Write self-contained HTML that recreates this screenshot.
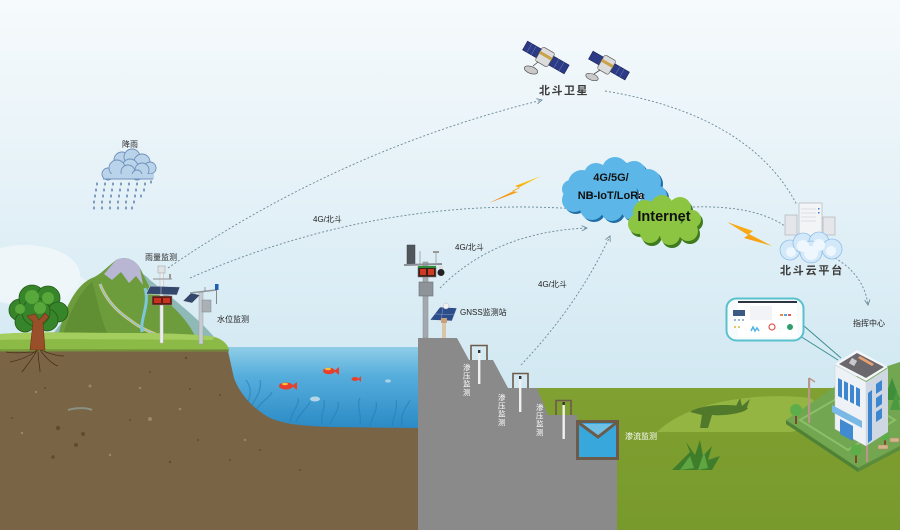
<!DOCTYPE html>
<html><head><meta charset="utf-8">
<style>
html,body{margin:0;padding:0;width:900px;height:530px;overflow:hidden;background:#e9f4f9}
svg{display:block}
text{font-family:"Liberation Sans","Noto Sans CJK SC",sans-serif}
</style></head><body>
<svg width="900" height="530" viewBox="0 0 900 530" xmlns="http://www.w3.org/2000/svg">
<defs>
<linearGradient id="sky" gradientUnits="userSpaceOnUse" x1="0" y1="0" x2="0" y2="390">
 <stop offset="0" stop-color="#f6fafc"/>
 <stop offset="0.45" stop-color="#e6f2f8"/>
 <stop offset="1" stop-color="#d1e8f2"/>
</linearGradient>
<linearGradient id="water" gradientUnits="userSpaceOnUse" x1="0" y1="347" x2="0" y2="428">
 <stop offset="0" stop-color="#8fcde7"/>
 <stop offset="0.35" stop-color="#56aedc"/>
 <stop offset="1" stop-color="#2b8bc6"/>
</linearGradient>
<linearGradient id="gr" gradientUnits="userSpaceOnUse" x1="0" y1="388" x2="0" y2="530">
 <stop offset="0" stop-color="#80a131"/>
 <stop offset="1" stop-color="#78992c"/>
</linearGradient>
<linearGradient id="bolt" x1="0" y1="1" x2="1" y2="0">
 <stop offset="0" stop-color="#f07a12"/>
 <stop offset="1" stop-color="#ffd51c"/>
</linearGradient>
<marker id="ar" viewBox="0 0 8 8" refX="7" refY="4" markerWidth="7" markerHeight="7" orient="auto" markerUnits="userSpaceOnUse">
 <path d="M1,1 L7,4 L1,7" fill="none" stroke="#6a8898" stroke-width="1"/>
</marker>
</defs>

<!-- sky -->
<rect x="0" y="0" width="900" height="530" fill="url(#sky)"/>
<ellipse cx="25" cy="275" rx="55" ry="30" fill="#f2f8fb" opacity="0.8"/>
<ellipse cx="60" cy="290" rx="30" ry="18" fill="#eef6fa" opacity="0.8"/>

<!-- right green ground -->
<rect x="500" y="388" width="400" height="142" fill="url(#gr)"/>
<path d="M657,432 C690,400 760,392 810,398 C830,410 820,428 790,432 Z" fill="#98b945" opacity="0.85"/>
<path d="M690,412 C700,404 735,403 748,408 C745,414 720,416 712,415 L708,428 L700,428 L702,415 Z" fill="#51792b"/>
<path d="M735,408 L740,398 L742,406 L750,399 L746,410 Z" fill="#51792b"/>
<!-- grass tuft -->
<g fill="#3f7d2a">
 <path d="M672,470 L690,452 L686,442 L695,455 L700,440 L703,456 L712,446 L708,460 L720,456 L712,470 Z"/>
</g>
<g fill="#5fa542">
 <path d="M680,470 L690,456 L694,468 Z"/>
 <path d="M698,470 L704,452 L708,468 Z"/>
</g>

<!-- mountains -->
<path d="M50,338 C70,310 90,292 110,280 C125,270 140,268 150,280 C175,300 200,320 215,338 Z" fill="#8fb9b6"/>
<path d="M58,338 C64,305 78,284 92,278 C100,275 106,268 116,260 C124,256 134,258 140,268 L150,288 C166,300 186,316 196,338 Z" fill="#6c9c3b"/>
<path d="M62,338 C70,310 80,292 92,282 C98,300 100,320 110,338 Z" fill="#5f8e33"/>
<path d="M104,274 L116,260 C124,256 134,258 140,268 L143,285 L136,276 L129,283 L121,272 L112,280 Z" fill="#b8b6d2"/>
<path d="M100,284 C106,300 118,312 130,320 C140,328 150,332 160,336" fill="none" stroke="#e7c77a" stroke-width="3"/>
<path d="M100,284 C106,300 118,312 130,320 C140,328 150,332 160,336" fill="none" stroke="#7cc7dc" stroke-width="1.2"/>
<path d="M145,288 C150,305 140,318 142,332" fill="none" stroke="#7cc7dc" stroke-width="3"/>

<!-- left soil -->
<rect x="0" y="347" width="420" height="183" fill="#7a6446"/>
<g fill="#5f4b33">
 <circle cx="58" cy="428" r="2.2"/><circle cx="83" cy="434" r="2"/><circle cx="76" cy="445" r="2"/><circle cx="53" cy="457" r="1.8"/>
 <circle cx="186" cy="358" r="1.2"/><circle cx="150" cy="372" r="1"/><circle cx="190" cy="389" r="1"/><circle cx="130" cy="420" r="1"/>
 <circle cx="170" cy="462" r="1.2"/><circle cx="198" cy="440" r="1"/><circle cx="230" cy="460" r="1"/><circle cx="300" cy="470" r="1"/>
 <circle cx="12" cy="418" r="1"/><circle cx="45" cy="388" r="1"/><circle cx="220" cy="395" r="1"/><circle cx="260" cy="450" r="1"/>
</g>
<g fill="#a8957a" opacity="0.7">
 <circle cx="150" cy="419" r="2"/><circle cx="90" cy="386" r="1.5"/><circle cx="36" cy="392" r="1.2"/><circle cx="180" cy="409" r="1.3"/>
 <circle cx="22" cy="433" r="1.2"/><circle cx="110" cy="455" r="1.2"/><circle cx="245" cy="440" r="1.2"/><circle cx="140" cy="388" r="1.2"/>
</g>
<path d="M68,410 C78,407 88,408 92,410" stroke="#8fb0a8" stroke-width="2" fill="none" opacity="0.6"/>

<!-- lake -->
<path d="M227,347 L418,347 L418,428 L333,427 C300,426 285,424 270,418 C255,410 240,395 234,378 C231,365 229,355 227,347 Z" fill="url(#water)"/>
<g fill="none" stroke="#2a7ab0" stroke-width="1.3" opacity="0.55">
 <path d="M248,402 C252,392 250,385 246,380 M252,405 C258,395 262,388 260,380 M256,410 C262,400 270,398 272,392"/>
 <path d="M290,422 C292,410 300,405 298,398 M296,422 C300,412 306,410 310,402"/>
 <path d="M322,424 C320,414 326,408 324,400 M330,424 C334,414 340,410 338,402"/>
 <path d="M360,425 C362,413 356,406 360,398 M370,426 C372,416 378,410 376,402"/>
 <path d="M392,426 C394,414 398,408 396,400 M402,426 C400,414 406,408 410,400"/>
</g>
<!-- fish -->
<g fill="#e8402c">
 <ellipse cx="286" cy="386" rx="7" ry="3.5"/><path d="M292,386 L297,382 L297,390 Z"/>
 <ellipse cx="329" cy="371" rx="6" ry="3.2"/><path d="M334,371 L339,367 L339,375 Z"/>
 <ellipse cx="355" cy="379" rx="3.5" ry="2"/><path d="M358,379 L361,376 L361,382 Z"/>
</g>
<ellipse cx="285" cy="384" rx="3" ry="1.2" fill="#f6c23a"/>
<ellipse cx="328" cy="369" rx="3" ry="1.2" fill="#f6c23a"/>
<ellipse cx="315" cy="399" rx="5" ry="2.5" fill="#cfe3ec" opacity="0.8"/>
<ellipse cx="388" cy="381" rx="3" ry="1.6" fill="#cfe3ec" opacity="0.7"/>

<!-- left grass -->
<path d="M0,334 C40,331 80,333 120,333 C160,333 200,334 215,337 C224,340 228,345 229,350 L0,351 Z" fill="#8cba46"/>
<path d="M0,334 C40,331 80,333 120,333 C160,333 200,334 215,337 L212,340 C150,340 60,338 0,340 Z" fill="#a3cd5c"/>
<path d="M0,349 L229,349 L229,352 L0,352 Z" fill="#6f8c38" opacity="0.6"/>

<!-- tree -->
<g stroke="#4b2f19" stroke-width="0.8" fill="none">
 <path d="M37,350 C30,356 20,360 10,362 M37,350 C32,360 26,366 22,372 M38,350 C38,360 40,366 40,372 M40,350 C46,358 52,364 58,366 M41,350 C50,354 58,356 64,356 M36,352 C24,352 16,354 6,352"/>
</g>
<g fill="#37852a" stroke="#245a16" stroke-width="0.8">
 <circle cx="20" cy="310" r="11"/><circle cx="32" cy="298" r="13"/><circle cx="48" cy="298" r="12"/>
 <circle cx="58" cy="312" r="10"/><circle cx="47" cy="320" r="11"/><circle cx="25" cy="322" r="10"/><circle cx="36" cy="312" r="14"/>
</g>
<g fill="#58a73a">
 <circle cx="32" cy="297" r="7"/><circle cx="48" cy="298" r="6"/><circle cx="20" cy="309" r="5"/><circle cx="40" cy="308" r="6"/>
</g>
<path d="M30,350 L33,322 L27,316 L35,314 L39,320 L45,313 L49,317 L43,323 L45,350 Z" fill="#9a4f2b" stroke="#6a3318" stroke-width="0.6"/>

<!-- rain cloud -->
<g fill="#b9d3eb" stroke="#6e90b8" stroke-width="0.9">
 <circle cx="122" cy="160" r="8"/><circle cx="132" cy="157" r="8"/><circle cx="142" cy="162" r="8"/><circle cx="150" cy="168" r="6"/>
 <circle cx="130" cy="167" r="8"/><circle cx="142" cy="170" r="7"/>
 <circle cx="108" cy="174" r="6"/><circle cx="117" cy="168" r="8"/><circle cx="128" cy="172" r="7"/><circle cx="137" cy="175" r="5"/>
</g>
<rect x="104" y="174" width="50" height="5" fill="#b9d3eb"/>
<path d="M103,179 L153,179" stroke="#6e90b8" stroke-width="0.9"/>
<g fill="#7897bd">
 <ellipse cx="97" cy="184" rx="1" ry="1.6"/><ellipse cx="105" cy="184" rx="1" ry="1.6"/><ellipse cx="113" cy="184" rx="1" ry="1.6"/><ellipse cx="121" cy="184" rx="1" ry="1.6"/><ellipse cx="129" cy="184" rx="1" ry="1.6"/><ellipse cx="137" cy="184" rx="1" ry="1.6"/><ellipse cx="145" cy="184" rx="1" ry="1.6"/><ellipse cx="151" cy="182" rx="1" ry="1.6"/>
 <ellipse cx="96" cy="190" rx="1" ry="1.6"/><ellipse cx="104" cy="190" rx="1" ry="1.6"/><ellipse cx="112" cy="190" rx="1" ry="1.6"/><ellipse cx="120" cy="190" rx="1" ry="1.6"/><ellipse cx="128" cy="190" rx="1" ry="1.6"/><ellipse cx="136" cy="190" rx="1" ry="1.6"/><ellipse cx="144" cy="190" rx="1" ry="1.6"/>
 <ellipse cx="95" cy="196" rx="1" ry="1.6"/><ellipse cx="103" cy="196" rx="1" ry="1.6"/><ellipse cx="111" cy="196" rx="1" ry="1.6"/><ellipse cx="119" cy="196" rx="1" ry="1.6"/><ellipse cx="127" cy="196" rx="1" ry="1.6"/><ellipse cx="135" cy="196" rx="1" ry="1.6"/><ellipse cx="141" cy="196" rx="1" ry="1.6"/>
 <ellipse cx="94" cy="202" rx="1" ry="1.6"/><ellipse cx="102" cy="202" rx="1" ry="1.6"/><ellipse cx="110" cy="202" rx="1" ry="1.6"/><ellipse cx="118" cy="202" rx="1" ry="1.6"/><ellipse cx="126" cy="202" rx="1" ry="1.6"/><ellipse cx="134" cy="202" rx="1" ry="1.6"/>
 <ellipse cx="94" cy="208" rx="1" ry="1.6"/><ellipse cx="102" cy="208" rx="1" ry="1.6"/><ellipse cx="110" cy="208" rx="1" ry="1.6"/><ellipse cx="118" cy="208" rx="1" ry="1.6"/><ellipse cx="126" cy="208" rx="1" ry="1.6"/><ellipse cx="132" cy="208" rx="1" ry="1.6"/>
</g>

<!-- rain gauge station -->
<rect x="160" y="268" width="3.2" height="75" fill="#eceeef" stroke="#b5b9bc" stroke-width="0.5"/>
<rect x="158" y="266" width="7" height="7" fill="#e0e2e4" stroke="#999" stroke-width="0.5"/>
<line x1="153" y1="279" x2="172" y2="279" stroke="#a0a4a8" stroke-width="1.2"/>
<rect x="169" y="274" width="2" height="5" fill="#999"/>
<polygon points="146,294 150,286 180,287 177,295" fill="#33476c" stroke="#d8dde3" stroke-width="0.6"/>
<line x1="161" y1="286" x2="161" y2="295" stroke="#d8dde3" stroke-width="0.5"/>
<rect x="152" y="296" width="20" height="9" fill="#5d1e14" stroke="#888" stroke-width="0.5"/>
<rect x="154" y="298" width="7" height="5" fill="#c9321d"/><rect x="163" y="298" width="7" height="5" fill="#c9321d"/>

<!-- water level station -->
<rect x="199" y="292" width="4" height="52" fill="#c5cbd0" stroke="#9aa1a7" stroke-width="0.5"/>
<line x1="190" y1="293" x2="216" y2="290" stroke="#8f969c" stroke-width="1.4"/>
<polygon points="183,301 191,293 200,295 192,303" fill="#34476b" stroke="#c8ced5" stroke-width="0.5"/>
<rect x="202" y="300" width="9" height="12" fill="#aab1b6" stroke="#80878d" stroke-width="0.5"/>
<rect x="215" y="284" width="3.5" height="6" fill="#1f5fb0"/>
<line x1="216.5" y1="290" x2="216.5" y2="304" stroke="#888" stroke-width="1"/>
<line x1="205" y1="287" x2="205" y2="292" stroke="#888" stroke-width="0.8"/>

<!-- dam -->
<path d="M418,338 L457,338 L469,360 L493,360 L508,388 L537,388 L548,415 L577,415 L577,458 L617,458 L617,530 L418,530 Z" fill="#8a8a8a"/>
<!-- weir box -->
<rect x="577.5" y="421.5" width="40" height="37" fill="#38a8dc" stroke="#6c5b4a" stroke-width="3"/>
<path d="M580,424 L598,436 L615,424 Z" fill="#6fc0e6"/>
<path d="M579,423 L598,437 L616,423" fill="none" stroke="#6c5b4a" stroke-width="3"/>
<!-- wells -->
<g fill="none" stroke="#6c5b4a" stroke-width="1.6">
 <path d="M471,360 L471,345.5 L487,345.5 L487,360"/>
 <path d="M513,388 L513,373.5 L528,373.5 L528,388"/>
 <path d="M556,415 L556,400.5 L571,400.5 L571,415"/>
</g>
<g fill="#f0f0f0">
 <rect x="478" y="351" width="2.4" height="33"/>
 <rect x="519" y="377" width="2.4" height="35"/>
 <rect x="562.5" y="403" width="2.4" height="36"/>
</g>
<g fill="#333"><rect x="478" y="350" width="2.4" height="3"/><rect x="519" y="376" width="2.4" height="3"/><rect x="562.5" y="402" width="2.4" height="3"/></g>

<!-- weather station on dam -->
<rect x="423" y="262" width="5" height="76" fill="#a3a9ae" stroke="#868c91" stroke-width="0.5"/>
<rect x="407" y="245" width="8" height="19" fill="#50565c" stroke="#3c4247" stroke-width="0.5"/>
<line x1="404" y1="265" x2="442" y2="264" stroke="#8a8f94" stroke-width="2"/>
<line x1="420" y1="251" x2="420" y2="265" stroke="#999" stroke-width="0.8"/>
<line x1="436" y1="253" x2="436" y2="264" stroke="#999" stroke-width="0.8"/>
<rect x="433" y="251" width="6" height="2" fill="#999"/>
<rect x="418" y="267" width="18" height="10" fill="#3a1f1a" stroke="#7a7a7a" stroke-width="0.6"/>
<rect x="420" y="269" width="6" height="6" fill="#d13a22"/><rect x="428" y="269" width="6" height="6" fill="#d13a22"/>
<rect x="418" y="266" width="18" height="2" fill="#2e8b3a"/>
<circle cx="441" cy="272.5" r="3.5" fill="#222"/>
<rect x="439" y="266" width="4" height="3" fill="#ddd"/>
<rect x="419" y="282" width="14" height="14" fill="#8d9398" stroke="#6a7075" stroke-width="0.6"/>

<!-- GNSS -->
<rect x="442" y="321" width="4" height="17" fill="#d9c6a8"/>
<polygon points="430,320 440,307 457,308 452,321" fill="#2b4e8a" stroke="#dfe6ee" stroke-width="0.6"/>
<line x1="435" y1="314" x2="455" y2="314.5" stroke="#9fb3d0" stroke-width="0.4"/>
<line x1="443" y1="308" x2="441" y2="320" stroke="#9fb3d0" stroke-width="0.4"/>
<circle cx="446" cy="306" r="3" fill="#f1f1f1" stroke="#aaa" stroke-width="0.4"/>
<rect x="441" y="318" width="6" height="5" fill="#c9a27a"/>

<!-- building platform -->
<polygon points="786,420 845,380 900,362 900,446 858,468" fill="#72a651"/>
<polygon points="786,420 858,468 858,472 786,424" fill="#4f8136"/>
<polygon points="858,468 900,446 900,450 858,472" fill="#5a8c3c"/>
<polygon points="800,420 848,392 895,420 848,450" fill="none" stroke="#8cbf68" stroke-width="2"/>
<!-- trees around -->
<g>
 <rect x="795" y="416" width="2" height="8" fill="#7a4a2a"/><circle cx="796" cy="410" r="6" fill="#5dae4a"/>
 <rect x="855" y="455" width="2" height="8" fill="#7a4a2a"/><circle cx="856" cy="450" r="5.5" fill="#5dae4a"/>
 <rect x="875" y="430" width="2" height="8" fill="#7a4a2a"/><circle cx="876" cy="424" r="5" fill="#5dae4a"/>
 <rect x="884" y="440" width="2" height="6" fill="#7a4a2a"/><circle cx="885" cy="436" r="4.5" fill="#5dae4a"/>
 <polygon points="884,400 892,378 900,400" fill="#3f8f3a"/>
 <polygon points="890,410 897,390 900,410" fill="#4a9a40"/>
</g>
<g fill="#d2b48c" stroke="#a88860" stroke-width="0.5">
 <rect x="878" y="445" width="10" height="4"/><rect x="890" y="438" width="9" height="4"/>
</g>
<!-- lamp poles -->
<rect x="808" y="378" width="2.2" height="45" fill="#b8978a"/>
<line x1="809" y1="378" x2="815" y2="382" stroke="#b8978a" stroke-width="1.5"/>
<rect x="866" y="418" width="2.2" height="44" fill="#b8978a"/>
<line x1="867" y1="418" x2="873" y2="422" stroke="#b8978a" stroke-width="1.5"/>
<!-- building -->
<polygon points="835,365 866,382 866,446 835,429" fill="#eef2f6" stroke="#c9d0d8" stroke-width="0.5"/>
<polygon points="866,382 888,368 888,432 866,446" fill="#cfd8e2"/>
<polygon points="835,364 857,350 888,367 866,381" fill="#f5f7f9"/>
<polygon points="839,364 857,353 884,367 866,378" fill="#6b686d"/>
<rect x="850" y="359" width="6" height="6" fill="#c9c9c9" transform="rotate(30 853 362)"/>
<polygon points="860,356 874,364 872,366 858,358" fill="#e8a070"/>
<g fill="#3e86d0">
 <polygon points="838,378 842,380 842,398 838,396"/>
 <polygon points="844,381 848,383 848,401 844,399"/>
 <polygon points="850,384 854,386 854,404 850,402"/>
 <polygon points="856,387 860,389 860,407 856,405"/>
 <polygon points="868,393 872,390 872,440 868,443"/>
 <polygon points="876,384 882,380 882,390 876,394"/>
 <polygon points="876,398 882,394 882,404 876,408"/>
 <polygon points="876,412 882,408 882,418 876,422"/>
</g>
<polygon points="832,405 862,421 862,428 832,412" fill="#7ab8e6"/>
<polygon points="840,419 853,426 853,441 840,434" fill="#3f8ad0"/>

<!-- dashboard bubble -->
<line x1="804" y1="326" x2="841" y2="358" stroke="#3b8d92" stroke-width="1"/>
<line x1="800" y1="336" x2="838" y2="360" stroke="#3b8d92" stroke-width="1"/>
<rect x="726.5" y="298.5" width="77" height="42" rx="10" fill="#f7fbfc" stroke="#58c1cd" stroke-width="2"/>
<rect x="738" y="301" width="59" height="36" fill="#ffffff"/>
<rect x="738" y="301" width="59" height="2" fill="#2c3440"/>
<rect x="733" y="310" width="12" height="6" fill="#3d5a86"/>
<g fill="#9fb6cf"><rect x="734" y="319" width="2" height="2"/><rect x="738" y="319" width="2" height="2"/><rect x="742" y="319" width="2" height="2"/></g>
<g fill="#e8c56a"><rect x="734" y="326" width="2" height="2"/><rect x="738" y="326" width="2" height="2"/></g>
<rect x="750" y="306" width="22" height="14" fill="#f1f3f6"/>
<g><rect x="780" y="314" width="3" height="2" fill="#f08a3a"/><rect x="784" y="314" width="3" height="2" fill="#4aa8e0"/><rect x="788" y="314" width="3" height="2" fill="#e85a5a"/></g>
<path d="M751,331 L753,327 L755,331 L757,328 L759,331" stroke="#4bb4e6" stroke-width="1.5" fill="none"/>
<circle cx="772" cy="327" r="3" fill="none" stroke="#e0574a" stroke-width="1.2"/>
<circle cx="790" cy="327" r="3" fill="#2f9e6a"/>

<!-- satellites -->
<g transform="rotate(30 545 57)">
 <rect x="522" y="52" width="16" height="10" fill="#2c3b86" stroke="#1a2258" stroke-width="0.6"/>
 <line x1="527" y1="52" x2="527" y2="62" stroke="#8090c8" stroke-width="0.4"/><line x1="532" y1="52" x2="532" y2="62" stroke="#8090c8" stroke-width="0.4"/>
 <rect x="552" y="52" width="18" height="10" fill="#2c3b86" stroke="#1a2258" stroke-width="0.6"/>
 <line x1="558" y1="52" x2="558" y2="62" stroke="#8090c8" stroke-width="0.4"/><line x1="564" y1="52" x2="564" y2="62" stroke="#8090c8" stroke-width="0.4"/>
 <rect x="538" y="49" width="14" height="16" rx="2" fill="#dcdcdc" stroke="#555" stroke-width="0.6"/>
 <rect x="538" y="54" width="14" height="3" fill="#c9a24a"/>
</g>
<ellipse cx="531" cy="70" rx="7" ry="3.5" fill="#c9c9c9" stroke="#444" stroke-width="0.6" transform="rotate(20 531 70)"/>
<line x1="533" y1="66" x2="538" y2="62" stroke="#444" stroke-width="0.8"/>
<g transform="rotate(30 607 65)">
 <rect x="588" y="60" width="12" height="9" fill="#2c3b86" stroke="#1a2258" stroke-width="0.6"/>
 <rect x="613" y="60" width="17" height="9" fill="#2c3b86" stroke="#1a2258" stroke-width="0.6"/>
 <line x1="619" y1="60" x2="619" y2="69" stroke="#8090c8" stroke-width="0.4"/><line x1="624" y1="60" x2="624" y2="69" stroke="#8090c8" stroke-width="0.4"/>
 <rect x="600" y="57" width="13" height="16" rx="2" fill="#dcdcdc" stroke="#555" stroke-width="0.6"/>
 <rect x="600" y="62" width="13" height="3" fill="#c9a24a"/>
</g>
<ellipse cx="592" cy="77" rx="6.5" ry="3.2" fill="#c9c9c9" stroke="#444" stroke-width="0.6" transform="rotate(20 592 77)"/>
<line x1="594" y1="74" x2="600" y2="70" stroke="#444" stroke-width="0.8"/>

<!-- connectors -->
<g fill="none" stroke="#6a8898" stroke-width="0.9" stroke-dasharray="2 2">
 <path d="M168,268 Q340,150 542,100" marker-end="url(#ar)"/>
 <path d="M190,278 Q380,195 577,209" marker-end="url(#ar)"/>
 <path d="M440,288 Q495,232 587,228" marker-end="url(#ar)"/>
 <path d="M521,365 Q578,305 610,236" marker-end="url(#ar)"/>
 <path d="M605,91 Q750,115 797,205"/>
 <path d="M693,207 Q760,205 790,230"/>
 <path d="M835,258 Q864,275 868,305" marker-end="url(#ar)"/>
</g>

<!-- lightning bolts -->
<polygon points="489,203 520,188 515,186 541,176 512,191 518,192" fill="url(#bolt)"/>
<polygon points="727,222 753,231 749,234 772,246 744,238 748,235" fill="url(#bolt)"/>

<!-- blue cloud -->
<g fill="#1f6da6" transform="translate(2,2)">
 <circle cx="582" cy="184" r="14"/><circle cx="596" cy="175" r="12"/><circle cx="615" cy="170" r="13"/><circle cx="634" cy="173" r="12"/>
 <circle cx="648" cy="182" r="13"/><circle cx="656" cy="196" r="11"/><circle cx="650" cy="205" r="11"/><circle cx="632" cy="209" r="11"/>
 <circle cx="612" cy="210" r="11"/><circle cx="592" cy="208" r="12"/><circle cx="574" cy="200" r="12"/><circle cx="571" cy="189" r="9"/>
 <circle cx="615" cy="192" r="22"/>
</g>
<g fill="#5cb7e8">
 <circle cx="582" cy="184" r="14"/><circle cx="596" cy="175" r="12"/><circle cx="615" cy="170" r="13"/><circle cx="634" cy="173" r="12"/>
 <circle cx="648" cy="182" r="13"/><circle cx="656" cy="196" r="11"/><circle cx="650" cy="205" r="11"/><circle cx="632" cy="209" r="11"/>
 <circle cx="612" cy="210" r="11"/><circle cx="592" cy="208" r="12"/><circle cx="574" cy="200" r="12"/><circle cx="571" cy="189" r="9"/>
 <circle cx="615" cy="192" r="22"/>
</g>
<!-- green cloud -->
<g fill="#3e7a1e" transform="translate(2,3)">
 <circle cx="645" cy="212" r="12"/><circle cx="662" cy="206" r="11"/><circle cx="680" cy="208" r="11"/><circle cx="692" cy="219" r="9"/>
 <circle cx="688" cy="231" r="10"/><circle cx="670" cy="235" r="10"/><circle cx="650" cy="233" r="10"/><circle cx="638" cy="224" r="10"/>
 <circle cx="665" cy="221" r="16"/>
</g>
<g fill="#8cc541">
 <circle cx="645" cy="212" r="12"/><circle cx="662" cy="206" r="11"/><circle cx="680" cy="208" r="11"/><circle cx="692" cy="219" r="9"/>
 <circle cx="688" cy="231" r="10"/><circle cx="670" cy="235" r="10"/><circle cx="650" cy="233" r="10"/><circle cx="638" cy="224" r="10"/>
 <circle cx="665" cy="221" r="16"/>
</g>
<text x="611" y="181" font-size="11" font-weight="bold" fill="#111" text-anchor="middle">4G/5G/</text>
<text x="611" y="199" font-size="11" font-weight="bold" fill="#111" text-anchor="middle">NB-IoT/LoRa</text>
<text x="664" y="221" font-size="14.5" font-weight="bold" fill="#111" text-anchor="middle">Internet</text>

<!-- server cloud platform -->
<rect x="785" y="215" width="12" height="20" fill="#e4e6ea" stroke="#a8acb2" stroke-width="0.6"/>
<rect x="823" y="217" width="12" height="18" fill="#e4e6ea" stroke="#a8acb2" stroke-width="0.6"/>
<rect x="799" y="203" width="23" height="40" fill="#f3f4f6" stroke="#a9adb4" stroke-width="0.6"/>
<g stroke="#c5c9cf" stroke-width="0.5"><line x1="801" y1="209" x2="816" y2="209"/><line x1="801" y1="213" x2="816" y2="213"/><line x1="801" y1="217" x2="816" y2="217"/><line x1="801" y1="221" x2="816" y2="221"/></g>
<rect x="818" y="208" width="1.5" height="1.5" fill="#3a7bd5"/><rect x="818" y="212" width="1.5" height="1.5" fill="#3a7bd5"/>
<g fill="#d3e8f9" stroke="#8fbfe6" stroke-width="0.8">
 <circle cx="790" cy="250" r="10"/><circle cx="803" cy="243" r="10"/><circle cx="819" cy="242" r="10"/><circle cx="832" cy="249" r="10"/><circle cx="811" cy="252" r="11"/>
</g>
<g fill="#eef7fd"><circle cx="803" cy="246" r="6"/><circle cx="819" cy="245" r="6"/><circle cx="811" cy="253" r="7"/><circle cx="791" cy="252" r="5"/><circle cx="831" cy="251" r="5"/></g>

<!-- labels -->
<text x="539" y="94" font-size="11" font-weight="bold" fill="#3a3a3a" letter-spacing="1.5">北斗卫星</text>
<text x="780" y="274" font-size="11" font-weight="bold" fill="#3a3a3a" letter-spacing="1.8">北斗云平台</text>
<g font-size="8" fill="#222">
 <text x="122" y="147">降雨</text>
 <text x="145" y="260">雨量监测</text>
 <text x="217" y="322">水位监测</text>
 <text x="313" y="222">4G/北斗</text>
 <text x="455" y="250">4G/北斗</text>
 <text x="538" y="287">4G/北斗</text>
 <text x="460" y="315">GNSS监测站</text>
 <text x="853" y="326">指挥中心</text>
</g>
<g font-size="8" fill="#ffffff">
 <text x="625" y="439">渗流监测</text>
</g>
<g font-size="7.5" fill="#ffffff">
 <text x="463" y="370">渗</text><text x="463" y="378.3">压</text><text x="463" y="386.6">监</text><text x="463" y="394.9">测</text>
 <text x="498" y="400">渗</text><text x="498" y="408.3">压</text><text x="498" y="416.6">监</text><text x="498" y="424.9">测</text>
 <text x="536" y="410">渗</text><text x="536" y="418.3">压</text><text x="536" y="426.6">监</text><text x="536" y="434.9">测</text>
</g>
</svg>
</body></html>
